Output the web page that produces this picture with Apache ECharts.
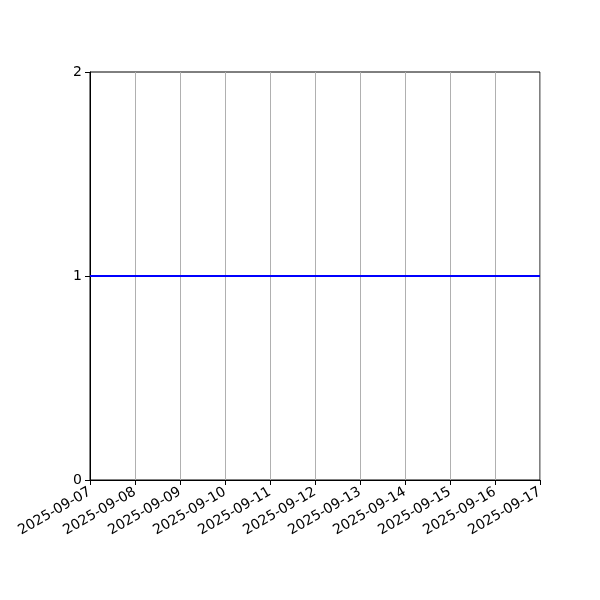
<!DOCTYPE html>
<html>
<head>
<meta charset="utf-8">
<script src="https://cdn.jsdelivr.net/npm/echarts@6/dist/echarts.min.js"></script>
<style>
  html, body { margin: 0; padding: 0; background: #fff; }
  #chart { width: 600px; height: 600px; }
</style>
</head>
<body>
<div id="chart"></div>
<script>
// Dates on the x axis and the series value at each date
const dates = ['2025-09-07', '2025-09-08', '2025-09-09', '2025-09-10', '2025-09-11',
    '2025-09-12', '2025-09-13', '2025-09-14', '2025-09-15', '2025-09-16', '2025-09-17'];
const values = [1, 1, 1, 1, 1, 1, 1, 1, 1, 1, 1];
const yTicks = [0, 1, 2];

const chart = echarts.init(document.getElementById('chart'), null, { renderer: 'canvas' });

const font = 'DejaVu Sans';

chart.setOption({
    animation: false,
    grid: {
        left: 90,
        right: 60,
        top: 72,
        bottom: 120,
        show: true,
        borderColor: '#000',
        borderWidth: 1
    },
    xAxis: {
        type: 'category',
        data: dates,
        boundaryGap: false,
        axisLine: { lineStyle: { color: '#000', width: 1 } },
        axisTick: { show: true, inside: false, length: 5, lineStyle: { color: '#000' } },
        axisLabel: {
            rotate: 30,
            interval: 0,
            margin: 11,
            color: '#000',
            fontFamily: font,
            fontSize: 14
        },
        splitLine: { show: true, lineStyle: { color: '#b0b0b0', width: 1 } }
    },
    yAxis: {
        type: 'value',
        min: yTicks[0],
        max: yTicks[yTicks.length - 1],
        interval: 1,
        axisLine: { show: true, lineStyle: { color: '#000', width: 1 } },
        axisTick: { show: true, inside: false, length: 5, lineStyle: { color: '#000' } },
        axisLabel: { color: '#000', fontFamily: font, fontSize: 14, margin: 8 },
        splitLine: { show: false }
    },
    series: [{
        type: 'line',
        data: values,
        showSymbol: false,
        lineStyle: { color: '#0000ff', width: 2 },
        itemStyle: { color: '#0000ff' }
    }]
});
</script>
</body>
</html>
